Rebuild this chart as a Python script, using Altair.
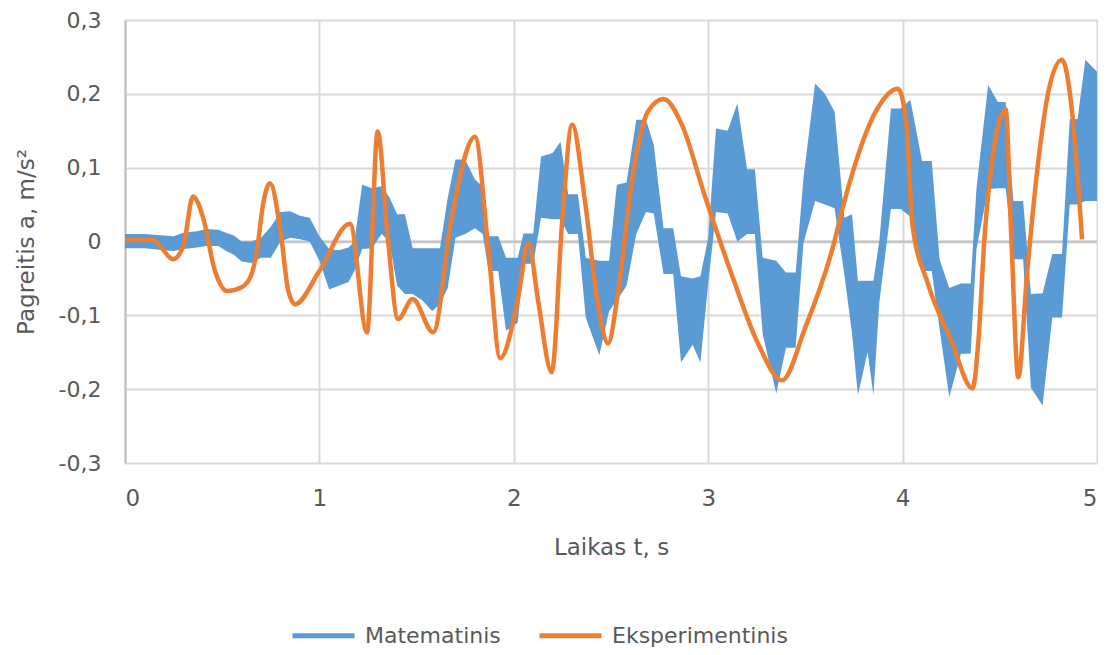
import altair as alt
import pandas as pd

# ---- Eksperimentinis (orange, smooth) ----
T_EXP = [0.0, 0.144, 0.18, 0.247, 0.30, 0.35, 0.40, 0.463, 0.525, 0.60, 0.65, 0.68, 0.71,
         0.746, 0.80, 0.84, 0.875, 1.0, 1.157, 1.245, 1.30, 1.35, 1.405, 1.48, 1.585,
         1.68, 1.80, 1.87, 1.93, 2.02, 2.075, 2.125, 2.195, 2.25, 2.30, 2.366, 2.43,
         2.485, 2.535, 2.61, 2.69, 2.77, 2.865, 2.98, 3.12, 3.256, 3.38, 3.50, 3.64,
         3.70, 3.87, 3.976, 4.02, 4.05, 4.13, 4.25, 4.36, 4.39, 4.42, 4.475, 4.53,
         4.56, 4.595, 4.64, 4.70, 4.75, 4.82, 4.87, 4.923]
V_EXP = [0.002, 0.002, -0.006, -0.024, -0.006, 0.061, 0.034, -0.040, -0.067, -0.062, -0.045, -0.010, 0.050,
         0.079, 0.014, -0.067, -0.085, -0.040, 0.024, -0.123, 0.149, 0.010, -0.105, -0.078, -0.123,
         0.032, 0.142, -0.013, -0.158, -0.080, -0.002, -0.080, -0.177, 0.032, 0.158, 0.055, -0.080,
         -0.138, -0.071, 0.086, 0.176, 0.193, 0.158, 0.064, -0.044, -0.138, -0.188, -0.116, -0.009,
         0.054, 0.180, 0.207, 0.158, 0.024, -0.057, -0.134, -0.199, -0.134, 0.000, 0.135, 0.179,
         0.000, -0.184, -0.044, 0.113, 0.203, 0.246, 0.180, 0.003]

# ---- Matematinis (blue, noisy band: upper / lower envelope) ----
T_MAT = [0.00, 0.10, 0.20, 0.25, 0.30, 0.37, 0.42, 0.48, 0.52, 0.56, 0.60, 0.65, 0.70, 0.75,
         0.80, 0.85, 0.90, 0.95, 1.00, 1.05, 1.10, 1.15, 1.18, 1.22, 1.27, 1.32, 1.36, 1.40,
         1.44, 1.48, 1.53, 1.58, 1.62, 1.66, 1.70, 1.75, 1.80, 1.84, 1.87, 1.92, 1.96, 2.02,
         2.05, 2.10, 2.14, 2.20, 2.24, 2.28, 2.33, 2.37, 2.44, 2.49, 2.53, 2.58, 2.63, 2.68,
         2.72, 2.77, 2.82, 2.86, 2.92, 2.96, 3.00, 3.04, 3.10, 3.15, 3.20, 3.24, 3.28, 3.35,
         3.40, 3.45, 3.49, 3.55, 3.60, 3.65, 3.70, 3.74, 3.77, 3.82, 3.85, 3.88, 3.94, 3.99,
         4.04, 4.10, 4.15, 4.19, 4.24, 4.30, 4.35, 4.38, 4.44, 4.49, 4.53, 4.57, 4.62, 4.66,
         4.72, 4.77, 4.82, 4.86, 4.90, 4.94, 5.00]
UP_MAT = [0.010, 0.010, 0.008, 0.007, 0.012, 0.014, 0.017, 0.016, 0.012, 0.008, 0.000, 0.000, 0.005, 0.020,
          0.040, 0.041, 0.035, 0.032, 0.007, -0.010, -0.012, -0.008, 0.000, 0.077, 0.072, 0.075, 0.060, 0.037,
          0.037, -0.009, -0.009, -0.009, -0.009, 0.059, 0.111, 0.111, 0.084, 0.075, 0.007, 0.007, -0.022, -0.022,
          0.011, 0.011, 0.115, 0.120, 0.135, 0.064, 0.064, -0.022, -0.026, -0.026, 0.077, 0.080, 0.165, 0.165,
          0.131, 0.018, 0.018, -0.047, -0.050, -0.047, 0.005, 0.153, 0.150, 0.187, 0.098, 0.098, -0.022, -0.026,
          -0.042, -0.042, 0.086, 0.214, 0.200, 0.176, 0.032, 0.037, -0.053, -0.053, -0.053, 0.000, 0.180, 0.180,
          0.192, 0.109, 0.109, -0.024, -0.063, -0.057, -0.057, 0.072, 0.212, 0.189, 0.189, 0.055, 0.055, -0.071,
          -0.070, -0.017, -0.017, 0.166, 0.166, 0.246, 0.230]
LO_MAT = [-0.009, -0.009, -0.012, -0.013, -0.010, -0.008, -0.006, -0.006, -0.013, -0.018, -0.027, -0.029, -0.022, -0.022,
          0.000, 0.005, 0.003, 0.000, -0.026, -0.065, -0.060, -0.055, -0.040, -0.010, -0.009, 0.010, 0.000, -0.060,
          -0.071, -0.071, -0.080, -0.094, -0.085, -0.063, 0.005, 0.010, 0.018, 0.010, -0.040, -0.040, -0.121, -0.110,
          -0.030, -0.030, 0.032, 0.030, 0.030, 0.010, 0.010, -0.103, -0.154, -0.094, -0.080, -0.060, 0.010, 0.040,
          0.038, -0.044, -0.044, -0.164, -0.140, -0.164, -0.057, 0.040, 0.038, 0.000, 0.010, 0.010, -0.125, -0.206,
          -0.144, -0.144, -0.002, 0.055, 0.050, 0.045, -0.044, -0.125, -0.208, -0.150, -0.208, -0.083, 0.044, 0.044,
          0.034, -0.040, -0.040, -0.118, -0.211, -0.152, -0.152, -0.010, 0.071, 0.072, 0.072, -0.024, -0.024, -0.198,
          -0.222, -0.103, -0.103, 0.050, 0.050, 0.055, 0.055]

SERIES = ["Matematinis", "Eksperimentinis"]
COLORS = ["#5b9bd5", "#ed7d31"]
X_TICKS = [0, 1, 2, 3, 4, 5]
Y_TICKS = [-0.3, -0.2, -0.1, 0.0, 0.1, 0.2, 0.3]

FONT = "DejaVu Sans"
TXT = "#595959"

exp_df = pd.DataFrame({"t": T_EXP, "v": V_EXP, "series": SERIES[1]})
mat_df = pd.DataFrame({"t": T_MAT, "v": UP_MAT, "lo": LO_MAT})
zero_df = pd.DataFrame({"t": [0, 5], "v": [0.0, 0.0]})

x_axis = alt.Axis(values=X_TICKS, title="Laikas t, s", grid=True, gridColor="#d9d9d9", gridWidth=2,
                  domain=False, ticks=False, labelPadding=24, titlePadding=26,
                  labelFontSize=23, titleFontSize=23, labelColor=TXT, titleColor=TXT,
                  labelFont=FONT, titleFont=FONT, titleFontWeight="normal")
y_axis = alt.Axis(values=Y_TICKS, title="Pagreitis a, m/s²", grid=True, gridColor="#d9d9d9", gridWidth=2,
                  domain=True, domainColor="#bfbfbf", domainWidth=2, ticks=False,
                  labelPadding=24, titlePadding=20,
                  labelExpr="datum.value == 0 ? '0' : replace(replace(format(datum.value, '.1f'), '.', ','), '\u2212', '-')",
                  labelFontSize=22, titleFontSize=23, labelColor=TXT, titleColor=TXT,
                  labelFont=FONT, titleFont=FONT, titleFontWeight="normal")

xs = alt.Scale(domain=[0, 5], nice=False, zero=False)
ys = alt.Scale(domain=[-0.3, 0.3], nice=False)

zero = alt.Chart(zero_df).mark_line(color="#bfbfbf", strokeWidth=2).encode(
    x=alt.X("t:Q", scale=xs, axis=x_axis),
    y=alt.Y("v:Q", scale=ys, axis=y_axis),
)

band = alt.Chart(mat_df).mark_area(color=COLORS[0], opacity=1).encode(
    x=alt.X("t:Q", scale=xs, axis=x_axis),
    y=alt.Y("v:Q", scale=ys, axis=y_axis),
    y2="lo:Q",
)

line = alt.Chart(exp_df).mark_line(strokeWidth=4.5, interpolate="monotone").encode(
    x=alt.X("t:Q", scale=xs, axis=x_axis),
    y=alt.Y("v:Q", scale=ys, axis=y_axis),
    color=alt.Color("series:N", scale=alt.Scale(domain=SERIES, range=COLORS),
                    legend=alt.Legend(title=None, orient="none", direction="horizontal",
                                      legendX=165, legendY=582,
                                      symbolType="stroke", symbolSize=3844, symbolStrokeWidth=5,
                                      labelFontSize=22, labelFont=FONT, labelColor=TXT,
                                      labelLimit=400, labelOffset=8, columnPadding=28)),
)

chart = alt.layer(zero, band, line).properties(
    width=972, height=443,
    autosize=alt.AutoSizeParams(type="none"),
    padding={"left": 117, "top": 12, "right": 1, "bottom": 184},
).configure_view(stroke=None).configure(font=FONT)

chart.save("out.html", embed_options={"renderer": "svg", "actions": False})
